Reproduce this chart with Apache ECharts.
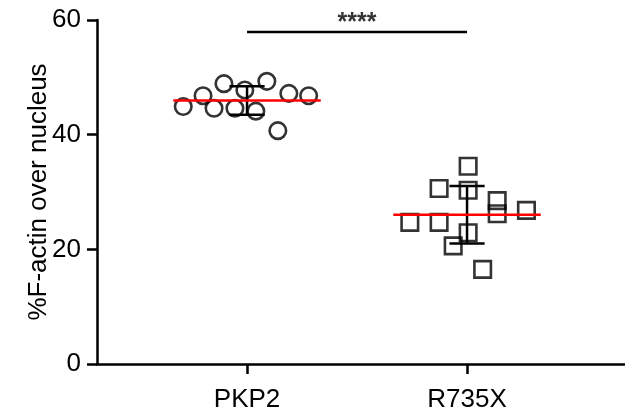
<!DOCTYPE html>
<html>
<head>
<meta charset="utf-8">
<script src="https://cdn.jsdelivr.net/npm/echarts@6/dist/echarts.min.js"></script>
<style>
html,body{margin:0;padding:0;background:#fff;}
#chart{width:625px;height:416px;}
</style>
</head>
<body>
<div id="chart"></div>
<script>
// ---- data ----
var categories = ['PKP2', 'R735X'];
var yTicks = [0, 20, 40, 60];
var pkp2Values = [44.9, 46.8, 44.6, 48.9, 44.6, 47.8, 44.1, 49.3, 40.7, 47.2, 46.8];
var pkp2Jitter = [-0.29, -0.20, -0.15, -0.105, -0.055, -0.01, 0.04, 0.09, 0.14, 0.19, 0.28];
var r735xValues = [34.5, 30.6, 30.3, 28.5, 26.2, 26.8, 24.7, 24.7, 22.9, 20.6, 16.5];
var r735xJitter = [0.005, -0.127, 0.005, 0.137, 0.137, 0.27, -0.26, -0.127, 0.005, -0.063, 0.071];
var significance = '****';
var yAxisTitle = '%F-actin over nucleus';

function mean(a){ return a.reduce(function(s,v){return s+v;},0)/a.length; }
function sd(a){ var m=mean(a); return Math.sqrt(a.reduce(function(s,v){return s+(v-m)*(v-m);},0)/(a.length-1)); }

var groups = [pkp2Values, r735xValues];
var jitters = [pkp2Jitter, r735xJitter];
var catPos = categories.map(function(c,i){ return i+1; });

function pts(g){
  return groups[g].map(function(v,i){ return [catPos[g]+jitters[g][i], v]; });
}

var meanHalf = 0.335, capHalf = 0.08;
var meanLines = [];
var errData = [];
groups.forEach(function(vals,g){
  var m = mean(vals), s = sd(vals);
  meanLines.push([[catPos[g]-meanHalf, m],[catPos[g]+meanHalf, m]]);
  errData.push([catPos[g], m-s, m+s]);
});

var font = 'Arial, "Liberation Sans", Helvetica, sans-serif';
var chart = echarts.init(document.getElementById('chart'), null, {renderer:'canvas'});

var series = [
  {type:'scatter', data: pts(0), symbol:'circle', symbolSize:16.5, z:3,
   itemStyle:{color:'rgba(0,0,0,0)', borderColor:'#000', borderWidth:2.6}},
  {type:'scatter', data: pts(1), symbol:'rect', symbolSize:16.5, z:3,
   itemStyle:{color:'rgba(0,0,0,0)', borderColor:'#000', borderWidth:2.6}},
  {type:'custom', z:4, data: errData,
   renderItem:function(params, api){
     var x = api.value(0), lo = api.value(1), hi = api.value(2);
     var pLo = api.coord([x, lo]), pHi = api.coord([x, hi]);
     var cL1 = api.coord([x-capHalf, lo]), cR1 = api.coord([x+capHalf, lo]);
     var cL2 = api.coord([x-capHalf, hi]), cR2 = api.coord([x+capHalf, hi]);
     var st = {stroke:'#000', lineWidth:2.5};
     return {type:'group', children:[
       {type:'line', shape:{x1:pLo[0],y1:pLo[1],x2:pHi[0],y2:pHi[1]}, style:st},
       {type:'line', shape:{x1:cL1[0],y1:cL1[1],x2:cR1[0],y2:cR1[1]}, style:st},
       {type:'line', shape:{x1:cL2[0],y1:cL2[1],x2:cR2[0],y2:cR2[1]}, style:st}
     ]};
   }}
];
meanLines.forEach(function(d){
  series.push({type:'line', data:d, symbol:'none', z:5, silent:true,
    lineStyle:{color:'#ff0000', width:2.5}});
});
series.push({type:'line', data:[[catPos[0],57.9],[catPos[1],57.9]], symbol:'none', z:5,
  lineStyle:{color:'#000', width:2.5}});
series.push({type:'scatter', data:[[(catPos[0]+catPos[1])/2, 59.5]], symbolSize:0, z:6,
  label:{show:true, position:'inside', formatter:significance, color:'#000', fontSize:25, fontWeight:'bold', fontFamily:font}});

chart.setOption({
  animation:false,
  backgroundColor:'#fff',
  grid:{left:97, right:0, top:20, bottom:52, containLabel:false},
  xAxis:{type:'value', min:0.318, max:2.718,
    axisLine:{show:true, onZero:false, lineStyle:{color:'#000', width:2.5}},
    axisTick:{show:true, length:10, lineStyle:{color:'#000', width:2.5}, customValues:catPos},
    axisLabel:{show:true, customValues:catPos, margin:23, color:'#000', fontSize:26, fontFamily:font,
      formatter:function(v){ var i = catPos.indexOf(Math.round(v)); return i>=0 ? categories[i] : ''; }},
    splitLine:{show:false}},
  yAxis:{type:'value', min:0, max:60, interval:20,
    name:yAxisTitle, nameLocation:'middle', nameGap:45, nameMoveOverlap:false,
    nameTextStyle:{color:'#000', fontSize:26, fontFamily:font},
    axisLine:{show:true, lineStyle:{color:'#000', width:2.5}},
    axisTick:{show:true, length:10, lineStyle:{color:'#000', width:2.5}},
    axisLabel:{color:'#000', fontSize:26, fontFamily:font, margin:16,
      formatter:function(v){ return yTicks.indexOf(v)>=0 ? String(v) : ''; }},
    splitLine:{show:false}},
  series:series
});
</script>
</body>
</html>
